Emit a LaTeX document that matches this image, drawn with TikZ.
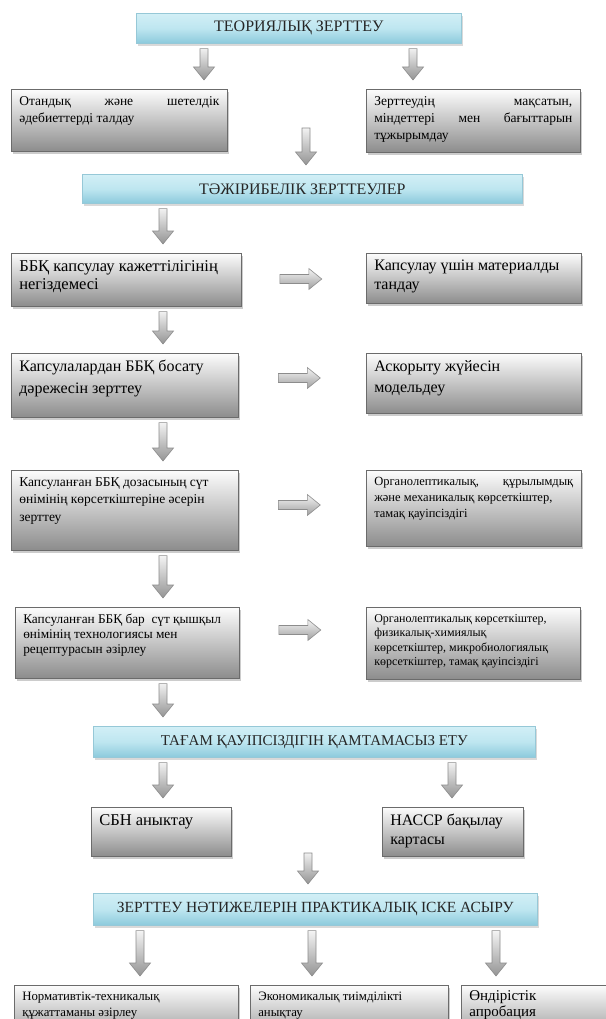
\documentclass[tikz,border=0pt]{standalone}
\usepackage{fontspec}
\setmainfont{Liberation Serif}
\usetikzlibrary{calc,shadows}

\definecolor{htop}{RGB}{210,239,246}
\definecolor{hmid}{RGB}{190,230,240}
\definecolor{hbot}{RGB}{140,202,220}
\definecolor{hline}{RGB}{150,200,215}

% text block of fixed size, set from the top
\newcommand\tbx[3]{\parbox[c][#2][t]{#1}{\hyphenpenalty=10000\exhyphenpenalty=10000 #3}}
\newcommand\fsz[2]{\fontsize{#1}{#2}\selectfont}

\tikzset{
  gbox/.style={draw=black!58, line width=0.6pt, top color=black!1, bottom color=black!45,
    drop shadow={shadow xshift=2pt, shadow yshift=-2.5pt, opacity=0.4},
    anchor=north west, inner xsep=8pt, inner ysep=7pt, text=black},
  hbox/.style={draw=hline, line width=0.6pt, top color=htop, bottom color=hbot, middle color=hmid,
    drop shadow={shadow xshift=2pt, shadow yshift=-2.5pt, opacity=0.3},
    anchor=north west, inner sep=0pt, text=black!85},
  varrow/.style={draw=black!45, line width=0.6pt, top color=white, bottom color=black!42,
    to path={let \p1=(\tikztostart), \p2=(\tikztotarget) in
      ({\x1-4pt},{\y1-5pt}) -- ({\x1+4pt},{\y1-5pt}) -- ({\x1+4pt},{\y2+22pt})
      -- ({\x1+10.5pt},{\y2+22pt}) -- ({\x1},{\y2+9pt}) -- ({\x1-10.5pt},{\y2+22pt})
      -- ({\x1-4pt},{\y2+22pt}) -- cycle}},
  harrow/.style={draw=black!45, line width=0.6pt, top color=black!4, bottom color=black!38,
    to path={let \p1=(\tikztostart), \p2=(\tikztotarget), \n1={(\x1+\x2)/2-3pt} in
      ({\n1-21pt},{\y1+4.5pt}) -- ({\n1+8pt},{\y1+4.5pt}) -- ({\n1+8pt},{\y1+10.5pt})
      -- ({\n1+21pt},{\y1}) -- ({\n1+8pt},{\y1-10.5pt}) -- ({\n1+8pt},{\y1-4.5pt})
      -- ({\n1-21pt},{\y1-4.5pt}) -- cycle}},
}

\begin{document}
\begin{tikzpicture}[x=1pt,y=-1pt]
\useasboundingbox (0,0) rectangle (605,1019);

% column guides for the connectors
\coordinate (xa) at (204,0);
\coordinate (xb) at (413,0);
\coordinate (xl) at (163,0);
\coordinate (xr) at (452,0);
\coordinate (xp) at (140,0);
\coordinate (xq) at (312,0);
\coordinate (xs) at (496,0);
\coordinate (m1) at (306,123);
\coordinate (m2) at (308,848);

% theoretical part
\node[hbox, minimum width=325pt, minimum height=30pt] (h1) at (136,13)
  {\fsz{16}{18}ТЕОРИЯЛЫҚ ЗЕРТТЕУ};
\node[gbox] (l1) at (11,89)
  {\tbx{200pt}{48pt}{\fsz{13.5}{17.5}Отандық\hfill және\hfill шетелдік\\ әдебиеттерді талдау}};
\node[gbox] (r1) at (366,89)
  {\tbx{198pt}{49pt}{\fsz{13.5}{17}Зерттеудің\hfill мақсатын,\\ міндеттері\hfill мен\hfill бағыттарын\\ тұжырымдау}};

% experimental part
\node[hbox, minimum width=440pt, minimum height=29pt] (h2) at (82,174)
  {\fsz{16}{18}ТӘЖІРИБЕЛІК ЗЕРТТЕУЛЕР};
\node[gbox] (b1) at (11,253)
  {\tbx{214pt}{39pt}{\fsz{16.5}{18.5}ББҚ капсулау кажеттілігінің\\ негіздемесі}};
\node[gbox] (q1) at (366,253)
  {\tbx{199pt}{36pt}{\fsz{16}{18.5}Капсулау үшін материалды\\ тандау}};
\node[gbox] (b2) at (11,353)
  {\tbx{211pt}{50pt}{\fsz{16}{22}Капсулалардан ББҚ босату\\ дәрежесін зерттеу}};
\node[gbox] (q2) at (366,353)
  {\tbx{199pt}{46pt}{\fsz{16}{21}Аскорыту жүйесін\\ модельдеу}};
\node[gbox] (b3) at (11,470)
  {\tbx{211pt}{66pt}{\fsz{13.5}{17.5}Капсуланған ББҚ дозасының сүт\\ өнімінің көрсеткіштеріне әсерін\\ зерттеу}};
\node[gbox] (q3) at (366,470)
  {\tbx{199pt}{62pt}{\fsz{12.5}{16}Органолептикалық,\hfill құрылымдық\\ және механикалық көрсеткіштер,\\ тамақ қауіпсіздігі}};
\node[gbox] (b4) at (15,607)
  {\tbx{208pt}{57pt}{\fsz{13.3}{15}Капсуланған ББҚ бар\ \ сүт қышқыл\\ өнімінің технологиясы мен\\ рецептурасын әзірлеу}};
\node[gbox] (q4) at (366,607)
  {\tbx{198pt}{58pt}{\fsz{12}{14.5}Органолептикалық көрсеткіштер,\\ физикалық-химиялық\\ көрсеткіштер, микробиологиялық\\ көрсеткіштер, тамақ қауіпсіздігі}};

% food safety
\node[hbox, minimum width=442pt, minimum height=31pt] (h3) at (93,726)
  {\fsz{15}{17}ТАҒАМ ҚАУІПСІЗДІГІН ҚАМТАМАСЫЗ ЕТУ};
\node[gbox] (s1) at (91,807)
  {\tbx{124pt}{35pt}{\fsz{16.5}{19}СБН аныктау}};
\node[gbox] (s2) at (382,807)
  {\tbx{125pt}{35pt}{\fsz{16}{19}НАССР бақылау\\ картасы}};

% practical implementation
\node[hbox, minimum width=444pt, minimum height=32pt] (h4) at (93,893)
  {\fsz{15.5}{17}ЗЕРТТЕУ НӘТИЖЕЛЕРІН ПРАКТИКАЛЫҚ ІСКЕ АСЫРУ};
\node[gbox] (d1) at (14,985)
  {\tbx{208pt}{46pt}{\fsz{12.8}{16}Нормативтік-техникалық\\ құжаттаманы әзірлеу}};
\node[gbox] (d2) at (250,985)
  {\tbx{182pt}{46pt}{\fsz{12.8}{16}Экономикалық тиімділікті\\ анықтау}};
\node[gbox, inner ysep=5pt] (d3) at (461,985)
  {\tbx{144pt}{50pt}{\fsz{15}{16.5}Өндірістік\\ апробация}};

% connectors
\draw[varrow] (h1.south -| xa) to (l1.north -| xa);
\draw[varrow] (h1.south -| xb) to (r1.north -| xb);
\draw[varrow] (m1) to (h2.north -| m1);
\draw[varrow] (h2.south -| xl) to (b1.north -| xl);
\draw[varrow] (b1.south -| xl) to (b2.north -| xl);
\draw[varrow] (b2.south -| xl) to (b3.north -| xl);
\draw[varrow] (b3.south -| xl) to (b4.north -| xl);
\draw[varrow] (b4.south -| xl) to (h3.north -| xl);
\draw[varrow] (h3.south -| xl) to (s1.north -| xl);
\draw[varrow] (h3.south -| xr) to (s2.north -| xr);
\draw[varrow] (m2) to (h4.north -| m2);
\draw[varrow] (h4.south -| xp) to (d1.north -| xp);
\draw[varrow] (h4.south -| xq) to (d2.north -| xq);
\draw[varrow] (h4.south -| xs) to (d3.north -| xs);

\draw[harrow] ([yshift=-26pt]b1.north east) to ([yshift=-26pt]q1.north west);
\draw[harrow] ([yshift=-25pt]b2.north east) to ([yshift=-25pt]q2.north west);
\draw[harrow] ([yshift=-35pt]b3.north east) to ([yshift=-35pt]q3.north west);
\draw[harrow] ([yshift=-23pt]b4.north east) to ([yshift=-23pt]q4.north west);
\end{tikzpicture}
\end{document}
